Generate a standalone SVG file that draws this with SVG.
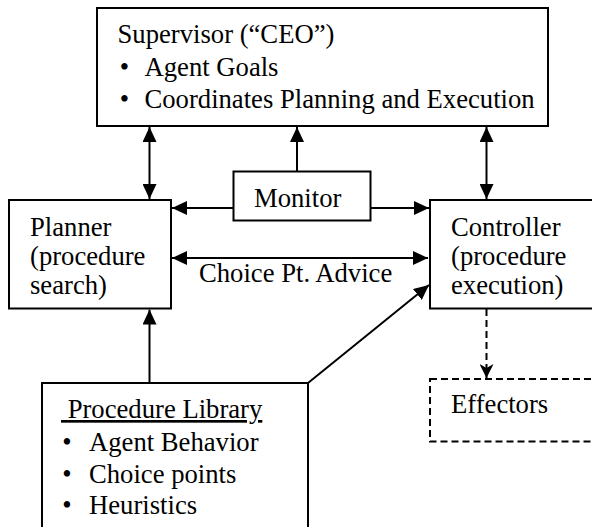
<svg xmlns="http://www.w3.org/2000/svg" width="592" height="527" viewBox="0 0 592 527">
<style>
.box{fill:#fff;stroke:#000;stroke-width:2}
.dash{fill:#fff;stroke:#000;stroke-width:2;stroke-dasharray:7,4}
.t{font-family:'Liberation Serif','DejaVu Serif',serif;font-size:26.67px;fill:#000}
.ln{stroke:#000;stroke-width:2;fill:none}
</style>
<defs>
<marker id="ah" markerUnits="userSpaceOnUse" markerWidth="15" markerHeight="14" refX="15" refY="7" orient="auto-start-reverse" viewBox="0 0 15 14">
<path d="M0,0 L15,7 L0,14 z" fill="#000"/>
</marker>
<marker id="ahv" markerUnits="userSpaceOnUse" markerWidth="14" markerHeight="14" refX="14" refY="7" orient="auto" viewBox="0 0 14 14">
<path d="M0,0 L14,7 L0,14 L4,7 z" fill="#000"/>
</marker>
</defs>
<g id="connectors">
<line class="ln" x1="149.5" y1="127" x2="149.5" y2="199" marker-start="url(#ah)" marker-end="url(#ah)"/>
<line class="ln" x1="486.5" y1="127" x2="486.5" y2="199" marker-start="url(#ah)" marker-end="url(#ah)"/>
<line class="ln" x1="297" y1="171" x2="297" y2="127" marker-end="url(#ah)"/>
<line class="ln" x1="233" y1="208" x2="172" y2="208" marker-end="url(#ah)"/>
<line class="ln" x1="371" y1="208" x2="429" y2="208" marker-end="url(#ah)"/>
<line class="ln" x1="172" y1="258" x2="428" y2="258" marker-start="url(#ah)" marker-end="url(#ah)"/>
<line class="ln" x1="149.5" y1="383" x2="149.5" y2="309.5" marker-end="url(#ah)"/>
<line class="ln" x1="308" y1="383" x2="429" y2="285" marker-end="url(#ah)"/>
<line class="ln" x1="486.5" y1="309" x2="486.5" y2="378" stroke-dasharray="7,4" marker-end="url(#ahv)"/>
</g>
<g id="supervisor">
<rect class="box" x="97" y="8" width="451" height="118"/>
<text class="t" x="117.5" y="43">Supervisor (“CEO”)</text>
<text class="t" x="124.5" y="76" text-anchor="middle">•</text>
<text class="t" x="144.5" y="76">Agent Goals</text>
<text class="t" x="124.5" y="108" text-anchor="middle">•</text>
<text class="t" x="144.5" y="108">Coordinates Planning and Execution</text>
</g>
<g id="monitor">
<rect class="box" x="233.5" y="171.5" width="137" height="49"/>
<text class="t" x="254" y="207">Monitor</text>
</g>
<g id="planner">
<rect class="box" x="9" y="200" width="162" height="108.5"/>
<text class="t" x="30" y="236">Planner</text>
<text class="t" x="30" y="265">(procedure</text>
<text class="t" x="30" y="294">search)</text>
</g>
<g id="controller">
<rect class="box" x="430" y="200" width="170" height="108.5"/>
<text class="t" x="451" y="236">Controller</text>
<text class="t" x="451" y="265">(procedure</text>
<text class="t" x="451" y="294">execution)</text>
</g>
<text class="t" x="199" y="282">Choice Pt. Advice</text>
<g id="library">
<rect class="box" x="42" y="383" width="266" height="160"/>
<text class="t" x="61" y="418" text-decoration="underline">&#160;Procedure Library</text>
<text class="t" x="67" y="451" text-anchor="middle">•</text>
<text class="t" x="89" y="451">Agent Behavior</text>
<text class="t" x="67" y="483" text-anchor="middle">•</text>
<text class="t" x="89" y="483">Choice points</text>
<text class="t" x="67" y="514" text-anchor="middle">•</text>
<text class="t" x="89" y="514">Heuristics</text>
</g>
<g id="effectors">
<rect class="dash" x="430" y="379" width="170" height="62.5"/>
<text class="t" x="451" y="413">Effectors</text>
</g>
</svg>
